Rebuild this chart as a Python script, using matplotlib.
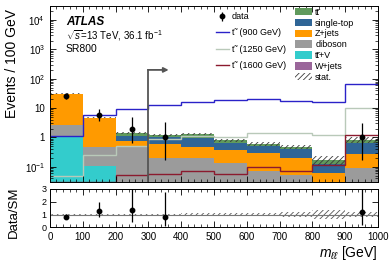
import numpy as np
import matplotlib.pyplot as plt
from matplotlib.patches import Patch
from matplotlib.lines import Line2D
from matplotlib.ticker import MultipleLocator, FuncFormatter, LogLocator, NullFormatter, NullLocator

plt.rcParams["font.family"] = ["Liberation Sans", "DejaVu Sans"]
plt.rcParams["mathtext.fontset"] = "custom"
plt.rcParams["mathtext.rm"] = "Liberation Sans"
plt.rcParams["mathtext.it"] = "Liberation Sans:italic"
plt.rcParams["mathtext.bf"] = "Liberation Sans:bold"
plt.rcParams["hatch.linewidth"] = 0.6

# m_ll bins (GeV)
edges = np.arange(0, 1001, 100)

# backgrounds, stacked bottom -> top
wjets = [0.01, 0.005, 0.003, 0.002, 0.002, 0.001, 0.001, 0.001, 0.001, 0.001]
ttv = [1.0, 0.10, 0.005, 0.004, 0.003, 0.002, 0.002, 0.001, 0.001, 0.002]
diboson = [1.7, 0.37, 0.48, 0.2, 0.2, 0.13, 0.07, 0.05, 0.01, 0.09]
zjets = [28.0, 4.0, 0.25, 0.4, 0.28, 0.25, 0.22, 0.15, 0.05, 0.17]
singletop = [0.1, 0.1, 0.35, 0.45, 0.47, 0.26, 0.21, 0.2, 0.06, 0.38]
ttbar = [0.2, 0.15, 0.37, 0.15, 0.35, 0.16, 0.1, 0.08, 0.05, 0.19]
stat_rel = [0.03, 0.04, 0.07, 0.08, 0.1, 0.12, 0.14, 0.18, 0.33, 0.2]

# signal stop samples
sig900 = [1.08, 5.9, 9.5, 13, 16, 19, 20.5, 18, 16, 65]
sig1250 = [0.047, 0.26, 0.5, 0.85, 1.1, 1.05, 1.4, 1.4, 1.25, 10]
sig1600 = [0.031, 0.031, 0.054, 0.058, 0.07, 0.058, 0.1, 0.074, 0.118, 1.23]

# observed data
data_x = [50, 150, 250, 350, 950]
data_bin = [0, 1, 2, 3, 9]
data_y = [26, 6, 2, 1, 1]
data_lo = [21, 3.7, 0.65, 0.17, 0.17]
data_hi = [32, 9.4, 5.0, 3.3, 3.1]

cut_x = 300
cut_y = 200

TT = "tt\u0304"
STOP = "t\u0303"

stack = [
    (wjets, "#9a669a", "W+jets"),
    (ttv, "#33cccc", TT + "+V"),
    (diboson, "#9b9b9b", "diboson"),
    (zjets, "#ff9a00", "Z+jets"),
    (singletop, "#2f6596", "single-top"),
    (ttbar, "#609a5c", TT),
]

fig = plt.figure(figsize=(3.9, 2.65), dpi=100)
ax = fig.add_axes([0.128, 0.313, 0.841, 0.664])
rax = fig.add_axes([0.128, 0.142, 0.841, 0.145])

bottom = np.zeros(len(edges) - 1)
for vals, col, lab in stack:
    top = bottom + np.array(vals)
    ax.stairs(top, edges, baseline=bottom, fill=True, color=col, lw=0)
    bottom = top
total = bottom
rel = np.array(stat_rel)

ax.stairs(total * (1 + rel), edges, baseline=total * (1 - rel), fill=True,
          facecolor="none", edgecolor="#3a3a3a", hatch="//////", lw=0)

ax.stairs(sig900, edges, baseline=None, color="#2a22c8", lw=1.0)
ax.stairs(sig1250, edges, baseline=None, color="#b9c9b9", lw=1.0)
ax.stairs(sig1600, edges, baseline=None, color="#8b1a2e", lw=1.0)

# selection cut
ax.plot([cut_x, cut_x], [0.01, cut_y], color="#555555", lw=1.3)
ax.annotate("", xy=(cut_x + 62, cut_y), xytext=(cut_x - 1, cut_y),
            arrowprops=dict(arrowstyle="-|>", color="#555555", lw=1.3,
                            mutation_scale=7, shrinkA=0, shrinkB=0))

dy = np.array(data_y, dtype=float)
yerr = [dy - np.array(data_lo), np.array(data_hi) - dy]
dat = ax.errorbar(data_x, dy, yerr=yerr, fmt="o", color="black", ms=3.2,
                  elinewidth=0.9, capsize=0)

ax.set_yscale("log")
ax.set_xlim(0, 1000)
ax.set_ylim(0.03, 3e4)


def log_fmt(v, pos):
    e = int(round(np.log10(v)))
    if e == 0:
        return "1"
    if e == 1:
        return "10"
    return r"$10^{%d}$" % e


ax.yaxis.set_major_locator(LogLocator(base=10, numticks=12))
ax.yaxis.set_major_formatter(FuncFormatter(log_fmt))
ax.yaxis.set_minor_locator(LogLocator(base=10, subs=np.arange(2, 10), numticks=12))
ax.yaxis.set_minor_formatter(NullFormatter())
ax.xaxis.set_major_locator(MultipleLocator(100))
ax.xaxis.set_minor_locator(MultipleLocator(20))
ax.tick_params(labelbottom=False)

# ratio panel
tot_d = total[data_bin]
ratio = dy / tot_d
rerr = [(dy - np.array(data_lo)) / tot_d, (np.array(data_hi) - dy) / tot_d]
rax.stairs(1 + rel, edges, baseline=1 - rel, fill=True, facecolor="none",
           edgecolor="#555555", hatch="//////", lw=0)
rax.axhline(1, color="#777777", lw=0.8)
rax.errorbar(data_x, ratio, yerr=rerr, fmt="o", color="black", ms=3.2,
             elinewidth=0.9, capsize=0)
rax.set_xlim(0, 1000)
rax.set_ylim(0, 3)
rax.yaxis.set_major_locator(MultipleLocator(1))
rax.yaxis.set_minor_locator(NullLocator())
rax.xaxis.set_major_locator(MultipleLocator(100))
rax.xaxis.set_minor_locator(MultipleLocator(20))

for a in (ax, rax):
    a.tick_params(which="both", direction="in", top=True, right=True, labelsize=7)
    a.tick_params(which="major", length=4, width=0.6)
    a.tick_params(which="minor", length=2, width=0.5)
    for s in a.spines.values():
        s.set_linewidth(0.7)
rax.tick_params(axis="y", labelsize=6.5, pad=2.5)

fig.text(0.031, 0.76, "Events / 100 GeV", rotation=90, ha="center", va="center", fontsize=10)
fig.text(0.036, 0.2, "Data/SM", rotation=90, ha="center", va="center", fontsize=9.5)
fig.text(0.969, 0.045, r"$m_{\ell\ell}$ [GeV]", ha="right", va="center", fontsize=10)

ax.text(0.049, 0.909, "ATLAS", transform=ax.transAxes, fontsize=8.5,
        fontweight="bold", fontstyle="italic", va="center")
ax.text(0.049, 0.835, r"$\sqrt{s}$=13 TeV, 36.1 fb$^{-1}$", transform=ax.transAxes,
        fontsize=7, va="center")
ax.text(0.049, 0.756, "SR800", transform=ax.transAxes, fontsize=7.5, va="center")

# legends
h_left = [
    dat,
    Line2D([], [], color="#2a22c8", lw=1.0),
    Line2D([], [], color="#b9c9b9", lw=1.0),
    Line2D([], [], color="#8b1a2e", lw=1.0),
]
l_left = ["data", STOP + "  (900 GeV)", STOP + "  (1250 GeV)", STOP + "  (1600 GeV)"]
leg1 = ax.legend(h_left, l_left, loc="upper left", bbox_to_anchor=(0.505, 0.965),
                 frameon=False, fontsize=6.5, borderpad=0, borderaxespad=0,
                 handlelength=1.5, handletextpad=0.3, labelspacing=0.8)
ax.add_artist(leg1)

h_right = [Patch(facecolor=c, lw=0) for _, c, _ in stack[::-1]]
h_right.append(Patch(facecolor="none", edgecolor="#3a3a3a", hatch="//////", lw=0))
l_right = [lab for _, _, lab in stack[::-1]] + ["stat."]
ax.legend(h_right, l_right, loc="upper left", bbox_to_anchor=(0.747, 0.99),
          frameon=False, fontsize=6.5, borderpad=0, borderaxespad=0,
          handlelength=1.9, handleheight=0.9, handletextpad=0.35, labelspacing=0.2)

fig.savefig("out.png", dpi=100)
